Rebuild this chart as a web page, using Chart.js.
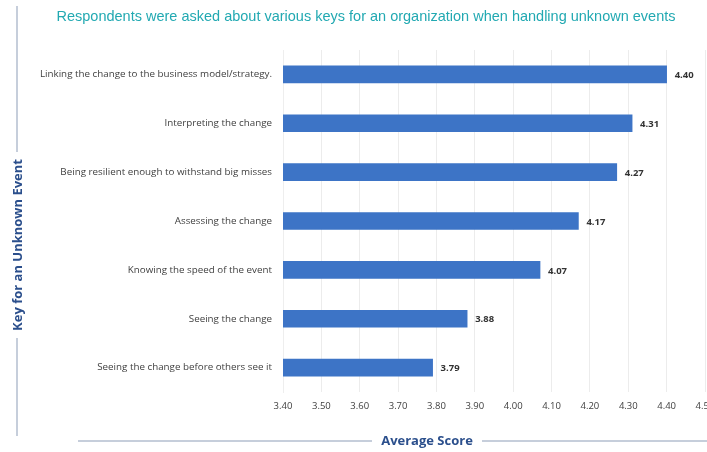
<!DOCTYPE html>
<html>
<head>
<meta charset="utf-8">
<script src="https://cdn.jsdelivr.net/npm/chart.js@4.4.0/dist/chart.umd.min.js"></script>
<style>
    html, body { margin: 0; padding: 0; background: #fff; overflow: hidden; }
    #wrap { width: 730px; height: 452px; position: relative; }
</style>
</head>
<body>
<div id="wrap"><canvas id="keysChart"></canvas></div>
<script>
// Chart data
const keyLabels = [
    'Linking the change to the business model/strategy.',
    'Interpreting the change',
    'Being resilient enough to withstand big misses',
    'Assessing the change',
    'Knowing the speed of the event',
    'Seeing the change',
    'Seeing the change before others see it'
];
const avgScores = [4.40, 4.31, 4.27, 4.17, 4.07, 3.88, 3.79];
const axisMin = 3.4;
const axisMax = 4.5;
const axisStep = 0.1;

const chartTitle = 'Respondents were asked about various keys for an organization when handling unknown events';
const yTitle = 'Key for an Unknown Event';
const xTitle = 'Average Score';

// Draws the title, axis titles with their side lines and the value labels
const decorPlugin = {
    id: 'decor',
    afterDatasetsDraw(chart) {
        const ctx = chart.ctx;
        const meta = chart.getDatasetMeta(0);

        // value labels at bar ends
        ctx.save();
        ctx.font = 'bold 9.5px "Open Sans", sans-serif';
        ctx.fillStyle = '#333333';
        ctx.textAlign = 'left';
        ctx.textBaseline = 'middle';
        meta.data.forEach((bar, i) => {
            ctx.fillText(avgScores[i].toFixed(2), bar.x + 8, bar.y + 1);
        });
        ctx.restore();
    },
    afterDraw(chart) {
        const ctx = chart.ctx;
        ctx.save();

        // main title
        ctx.font = '14.5px "Liberation Sans", Arial, sans-serif';
        ctx.fillStyle = '#22a9b2';
        ctx.textAlign = 'center';
        ctx.textBaseline = 'middle';
        ctx.fillText(chartTitle, 366, 17);

        ctx.strokeStyle = '#b4bfd0';
        ctx.lineWidth = 1.5;

        // y title, rotated, with lines above and below
        ctx.beginPath();
        ctx.moveTo(17, 6);
        ctx.lineTo(17, 152);
        ctx.moveTo(17, 338);
        ctx.lineTo(17, 436);
        ctx.stroke();

        ctx.save();
        ctx.translate(18, 245);
        ctx.rotate(-Math.PI / 2);
        ctx.font = 'bold 13px "Open Sans", sans-serif';
        ctx.fillStyle = '#2b4f8c';
        ctx.textAlign = 'center';
        ctx.textBaseline = 'middle';
        ctx.fillText(yTitle, 0, 0);
        ctx.restore();

        // x title with lines left and right
        ctx.beginPath();
        ctx.moveTo(78, 441);
        ctx.lineTo(372, 441);
        ctx.moveTo(482, 441);
        ctx.lineTo(730, 441);
        ctx.stroke();

        ctx.font = 'bold 13px "Open Sans", sans-serif';
        ctx.fillStyle = '#2b4f8c';
        ctx.textAlign = 'center';
        ctx.textBaseline = 'middle';
        ctx.fillText(xTitle, 427, 441);

        ctx.restore();
    }
};

function drawChart() {
    const ctx = document.getElementById('keysChart');

    new Chart(ctx, {
        type: 'bar',
        data: {
            labels: keyLabels,
            datasets: [{
                data: avgScores,
                backgroundColor: '#3d74c6',
                borderWidth: 0,
                barThickness: 17
            }]
        },
        options: {
            indexAxis: 'y',
            responsive: true,
            maintainAspectRatio: false,
            animation: false,
            layout: {
                padding: { top: 50, right: 25, bottom: 0, left: 0 }
            },
            scales: {
                x: {
                    min: axisMin,
                    max: axisMax,
                    afterFit: scale => { scale.height = 60; },
                    ticks: {
                        stepSize: axisStep,
                        padding: 9,
                        color: '#404040',
                        font: { family: '"Open Sans", sans-serif', size: 9.5 },
                        callback: value => Number(value).toFixed(2)
                    },
                    grid: {
                        color: '#ececec',
                        drawTicks: false
                    },
                    border: { display: false }
                },
                y: {
                    afterFit: scale => { scale.width = 283; },
                    ticks: {
                        padding: 11,
                        color: '#404040',
                        font: { family: '"Open Sans", sans-serif', size: 9.8 }
                    },
                    grid: { display: false, drawTicks: false },
                    border: { color: '#eeeeee' }
                }
            },
            plugins: {
                legend: { display: false },
                title: { display: false },
                tooltip: { enabled: false }
            }
        },
        plugins: [decorPlugin]
    });
}

drawChart();
</script>
</body>
</html>
